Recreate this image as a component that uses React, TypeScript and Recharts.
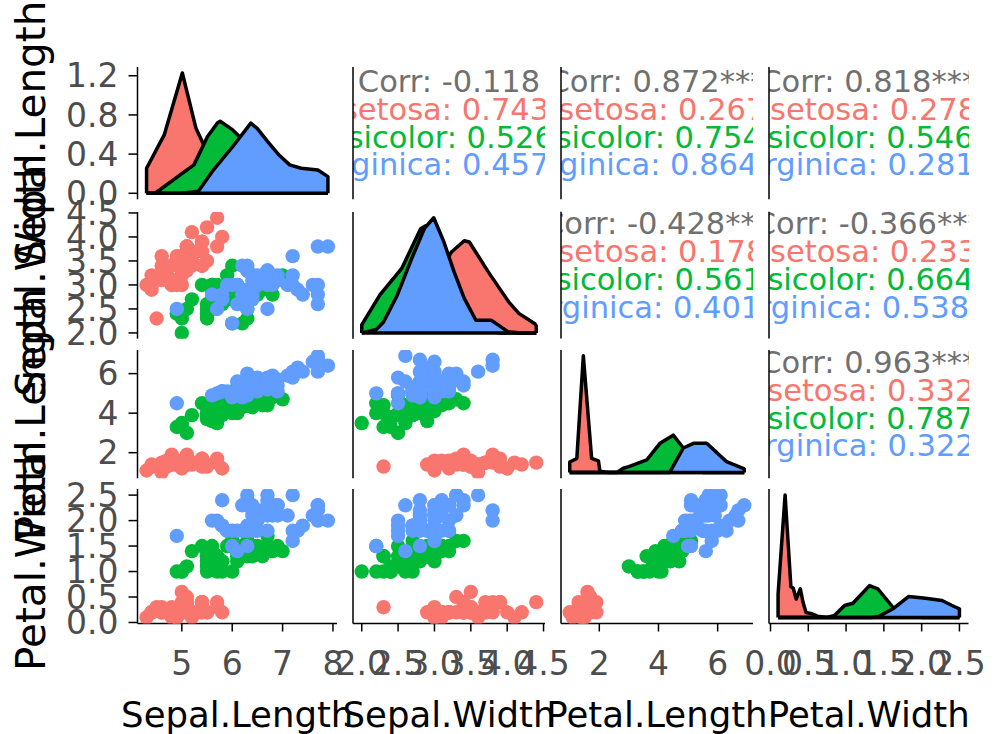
import { Area, AreaChart, ReferenceLine, Scatter, ScatterChart, XAxis, YAxis } from "recharts";

const FONT = "'DejaVu Sans', Verdana, sans-serif";
const TICK_COLOR = "#4d4d4d";
const SPECIES = ["setosa", "versicolor", "virginica"];
const SPECIES_COLORS = ["#F8766D", "#00BA38", "#619CFF"];
const VARIABLES = ["Sepal.Length", "Sepal.Width", "Petal.Length", "Petal.Width"];

// iris measurements, one array per species and variable
const setosaSepalLength = [5.1, 4.9, 4.7, 4.6, 5.0, 5.4, 4.6, 5.0, 4.4, 4.9, 5.4, 4.8, 4.8, 4.3, 5.8, 5.7, 5.4, 5.1, 5.7, 5.1, 5.4, 5.1, 4.6, 5.1, 4.8, 5.0, 5.0, 5.2, 5.2, 4.7, 4.8, 5.4, 5.2, 5.5, 4.9, 5.0, 5.5, 4.9, 4.4, 5.1, 5.0, 4.5, 4.4, 5.0, 5.1, 4.8, 5.1, 4.6, 5.3, 5.0];
const setosaSepalWidth = [3.5, 3.0, 3.2, 3.1, 3.6, 3.9, 3.4, 3.4, 2.9, 3.1, 3.7, 3.4, 3.0, 3.0, 4.0, 4.4, 3.9, 3.5, 3.8, 3.8, 3.4, 3.7, 3.6, 3.3, 3.4, 3.0, 3.4, 3.5, 3.4, 3.2, 3.1, 3.4, 4.1, 4.2, 3.1, 3.2, 3.5, 3.6, 3.0, 3.4, 3.5, 2.3, 3.2, 3.5, 3.8, 3.0, 3.8, 3.2, 3.7, 3.3];
const setosaPetalLength = [1.4, 1.4, 1.3, 1.5, 1.4, 1.7, 1.4, 1.5, 1.4, 1.5, 1.5, 1.6, 1.4, 1.1, 1.2, 1.5, 1.3, 1.4, 1.7, 1.5, 1.7, 1.5, 1.0, 1.7, 1.9, 1.6, 1.6, 1.5, 1.4, 1.6, 1.6, 1.5, 1.5, 1.4, 1.5, 1.2, 1.3, 1.4, 1.3, 1.5, 1.3, 1.3, 1.3, 1.6, 1.9, 1.4, 1.6, 1.4, 1.5, 1.4];
const setosaPetalWidth = [0.2, 0.2, 0.2, 0.2, 0.2, 0.4, 0.3, 0.2, 0.2, 0.1, 0.2, 0.2, 0.1, 0.1, 0.2, 0.4, 0.4, 0.3, 0.3, 0.3, 0.2, 0.4, 0.2, 0.5, 0.2, 0.2, 0.4, 0.2, 0.2, 0.2, 0.2, 0.4, 0.1, 0.2, 0.2, 0.2, 0.2, 0.1, 0.2, 0.2, 0.3, 0.3, 0.2, 0.6, 0.4, 0.3, 0.2, 0.2, 0.2, 0.2];

const versicolorSepalLength = [7.0, 6.4, 6.9, 5.5, 6.5, 5.7, 6.3, 4.9, 6.6, 5.2, 5.0, 5.9, 6.0, 6.1, 5.6, 6.7, 5.6, 5.8, 6.2, 5.6, 5.9, 6.1, 6.3, 6.1, 6.4, 6.6, 6.8, 6.7, 6.0, 5.7, 5.5, 5.5, 5.8, 6.0, 5.4, 6.0, 6.7, 6.3, 5.6, 5.5, 5.5, 6.1, 5.8, 5.0, 5.6, 5.7, 5.7, 6.2, 5.1, 5.7];
const versicolorSepalWidth = [3.2, 3.2, 3.1, 2.3, 2.8, 2.8, 3.3, 2.4, 2.9, 2.7, 2.0, 3.0, 2.2, 2.9, 2.9, 3.1, 3.0, 2.7, 2.2, 2.5, 3.2, 2.8, 2.5, 2.8, 2.9, 3.0, 2.8, 3.0, 2.9, 2.6, 2.4, 2.4, 2.7, 2.7, 3.0, 3.4, 3.1, 2.3, 3.0, 2.5, 2.6, 3.0, 2.6, 2.3, 2.7, 3.0, 2.9, 2.9, 2.5, 2.8];
const versicolorPetalLength = [4.7, 4.5, 4.9, 4.0, 4.6, 4.5, 4.7, 3.3, 4.6, 3.9, 3.5, 4.2, 4.0, 4.7, 3.6, 4.4, 4.5, 4.1, 4.5, 3.9, 4.8, 4.0, 4.9, 4.7, 4.3, 4.4, 4.8, 5.0, 4.5, 3.5, 3.8, 3.7, 3.9, 5.1, 4.5, 4.5, 4.7, 4.4, 4.1, 4.0, 4.4, 4.6, 4.0, 3.3, 4.2, 4.2, 4.2, 4.3, 3.0, 4.1];
const versicolorPetalWidth = [1.4, 1.5, 1.5, 1.3, 1.5, 1.3, 1.6, 1.0, 1.3, 1.4, 1.0, 1.5, 1.0, 1.4, 1.3, 1.4, 1.5, 1.0, 1.5, 1.1, 1.8, 1.3, 1.5, 1.2, 1.3, 1.4, 1.4, 1.7, 1.5, 1.0, 1.1, 1.0, 1.2, 1.6, 1.5, 1.6, 1.5, 1.3, 1.3, 1.3, 1.2, 1.4, 1.2, 1.0, 1.3, 1.2, 1.3, 1.3, 1.1, 1.3];

const virginicaSepalLength = [6.3, 5.8, 7.1, 6.3, 6.5, 7.6, 4.9, 7.3, 6.7, 7.2, 6.5, 6.4, 6.8, 5.7, 5.8, 6.4, 6.5, 7.7, 7.7, 6.0, 6.9, 5.6, 7.7, 6.3, 6.7, 7.2, 6.2, 6.1, 6.4, 7.2, 7.4, 7.9, 6.4, 6.3, 6.1, 7.7, 6.3, 6.4, 6.0, 6.9, 6.7, 6.9, 5.8, 6.8, 6.7, 6.7, 6.3, 6.5, 6.2, 5.9];
const virginicaSepalWidth = [3.3, 2.7, 3.0, 2.9, 3.0, 3.0, 2.5, 2.9, 2.5, 3.6, 3.2, 2.7, 3.0, 2.5, 2.8, 3.2, 3.0, 3.8, 2.6, 2.2, 3.2, 2.8, 2.8, 2.7, 3.3, 3.2, 2.8, 3.0, 2.8, 3.0, 2.8, 3.8, 2.8, 2.8, 2.6, 3.0, 3.4, 3.1, 3.0, 3.1, 3.1, 3.1, 2.7, 3.2, 3.3, 3.0, 2.5, 3.0, 3.4, 3.0];
const virginicaPetalLength = [6.0, 5.1, 5.9, 5.6, 5.8, 6.6, 4.5, 6.3, 5.8, 6.1, 5.1, 5.3, 5.5, 5.0, 5.1, 5.3, 5.5, 6.7, 6.9, 5.0, 5.7, 4.9, 6.7, 4.9, 5.7, 6.0, 4.8, 4.9, 5.6, 5.8, 6.1, 6.4, 5.6, 5.1, 5.6, 6.1, 5.6, 5.5, 4.8, 5.4, 5.6, 5.1, 5.1, 5.9, 5.7, 5.2, 5.0, 5.2, 5.4, 5.1];
const virginicaPetalWidth = [2.5, 1.9, 2.1, 1.8, 2.2, 2.1, 1.7, 1.8, 1.8, 2.5, 2.0, 1.9, 2.1, 2.0, 2.4, 2.3, 1.8, 2.2, 2.3, 1.5, 2.3, 2.0, 2.0, 1.8, 2.1, 1.8, 1.8, 1.8, 2.1, 1.6, 1.9, 2.0, 2.2, 1.5, 1.4, 2.3, 2.4, 1.8, 1.8, 2.1, 2.4, 2.3, 1.9, 2.3, 2.5, 2.3, 1.9, 2.0, 2.3, 1.8];

const measurements = [
  [setosaSepalLength, setosaSepalWidth, setosaPetalLength, setosaPetalWidth],
  [versicolorSepalLength, versicolorSepalWidth, versicolorPetalLength, versicolorPetalWidth],
  [virginicaSepalLength, virginicaSepalWidth, virginicaPetalLength, virginicaPetalWidth],
];

// axis ranges and ticks for each variable
const varDomains: [number, number][] = [[4.12, 8.08], [1.88, 4.52], [0.705, 7.195], [-0.02, 2.62]];
const varTicks = [[5, 6, 7, 8], [2, 2.5, 3, 3.5, 4, 4.5], [2, 4, 6], [0, 0.5, 1, 1.5, 2, 2.5]];
const varDecimals = [0, 1, 0, 1];

// density outlines on the diagonal, [value, density]
const densSepalLengthSetosa = [[4.3, 0], [4.3, 0.256], [4.65, 0.596], [5.01, 1.228], [5.28, 0.665], [5.42, 0.511], [5.6, 0.32], [5.8, 0.12], [6.0, 0.04], [6.3, 0.005], [6.6, 0], [7.9, 0]];
const densSepalLengthVersicolor = [[4.3, 0], [4.47, 0], [5.0, 0.2], [5.24, 0.29], [5.51, 0.58], [5.71, 0.72], [5.76, 0.735], [6.01, 0.647], [6.14, 0.58], [6.4, 0.45], [6.7, 0.3], [7.0, 0.12], [7.2, 0.03], [7.5, 0], [7.9, 0]];
const densSepalLengthVirginica = [[4.3, 0], [5.0, 0], [5.33, 0.02], [5.6, 0.22], [6.0, 0.47], [6.37, 0.716], [6.5, 0.66], [6.7, 0.53], [6.93, 0.39], [7.14, 0.29], [7.37, 0.256], [7.7, 0.238], [7.9, 0.17], [7.9, 0]];

const densSepalWidthSetosa = [[2.0, 0], [2.0, 0.005], [2.3, 0.02], [2.6, 0.08], [2.8, 0.2], [3.0, 0.45], [3.23, 0.7], [3.41, 0.8], [3.48, 0.79], [3.74, 0.53], [4.02, 0.27], [4.16, 0.17], [4.38, 0.08], [4.4, 0.06], [4.4, 0]];
const densSepalWidthVersicolor = [[2.0, 0], [2.0, 0.07], [2.25, 0.33], [2.55, 0.56], [2.81, 0.905], [2.88, 0.93], [3.0, 0.8], [3.2, 0.45], [3.4, 0.15], [3.6, 0.03], [3.9, 0], [4.4, 0]];
const densSepalWidthVirginica = [[2.0, 0], [2.2, 0.03], [2.3, 0.095], [2.49, 0.33], [2.67, 0.62], [2.86, 0.905], [2.99, 1.0], [3.13, 0.79], [3.27, 0.53], [3.41, 0.3], [3.57, 0.11], [3.78, 0.11], [3.92, 0.05], [4.01, 0.01], [4.2, 0], [4.4, 0]];

const densPetalLengthSetosa = [[1.0, 0], [1.0, 0.09], [1.24, 0.12], [1.46, 1.0], [1.74, 0.12], [1.97, 0.1], [2.02, 0.01], [2.3, 0], [6.9, 0]];
const densPetalLengthVersicolor = [[1.0, 0], [2.6, 0], [2.81, 0.036], [3.0, 0.05], [3.6, 0.107], [4.05, 0.25], [4.5, 0.32], [4.84, 0.21], [5.0, 0.12], [5.2, 0.04], [5.5, 0], [6.9, 0]];
const densPetalLengthVirginica = [[1.0, 0], [4.38, 0], [4.84, 0.21], [5.18, 0.25], [5.63, 0.25], [6.3, 0.093], [6.86, 0.036], [6.9, 0.03], [6.9, 0]];

const densPetalWidthSetosa = [[0.1, 0], [0.1, 0.19], [0.193, 1.0], [0.27, 0.25], [0.3, 0.24], [0.34, 0.15], [0.395, 0.234], [0.43, 0.124], [0.47, 0.04], [0.55, 0.03], [0.62, 0.01], [0.75, 0], [2.5, 0]];
const densPetalWidthVersicolor = [[0.1, 0], [0.75, 0], [0.845, 0.015], [0.98, 0.097], [1.09, 0.116], [1.31, 0.26], [1.42, 0.234], [1.62, 0.083], [1.8, 0.02], [2.0, 0], [2.5, 0]];
const densPetalWidthVirginica = [[0.1, 0], [1.35, 0], [1.44, 0.01], [1.62, 0.07], [1.83, 0.171], [2.05, 0.156], [2.27, 0.138], [2.43, 0.089], [2.5, 0.07], [2.5, 0]];

const densities = [
  [densSepalLengthSetosa, densSepalLengthVersicolor, densSepalLengthVirginica],
  [densSepalWidthSetosa, densSepalWidthVersicolor, densSepalWidthVirginica],
  [densPetalLengthSetosa, densPetalLengthVersicolor, densPetalLengthVirginica],
  [densPetalWidthSetosa, densPetalWidthVersicolor, densPetalWidthVirginica],
];
const densityDomains: [number, number][] = [[-0.0614, 1.2894], [-0.05, 1.05], [-0.05, 1.05], [-0.05, 1.05]];
const densityTicks = [0, 0.4, 0.8, 1.2];

// correlation text above the diagonal: overall value first, then per species
const corrSepalLengthSepalWidth = ["-0.118", "0.743***", "0.526***", "0.457***"];
const corrSepalLengthPetalLength = ["0.872***", "0.267.", "0.754***", "0.864***"];
const corrSepalLengthPetalWidth = ["0.818***", "0.278.", "0.546***", "0.281*"];
const corrSepalWidthPetalLength = ["-0.428***", "0.178", "0.561***", "0.401**"];
const corrSepalWidthPetalWidth = ["-0.366***", "0.233", "0.664***", "0.538***"];
const corrPetalLengthPetalWidth = ["0.963***", "0.332*", "0.787***", "0.322*"];
const corrValues: Record<string, string[]> = {
  "0-1": corrSepalLengthSepalWidth,
  "0-2": corrSepalLengthPetalLength,
  "0-3": corrSepalLengthPetalWidth,
  "1-2": corrSepalWidthPetalLength,
  "1-3": corrSepalWidthPetalWidth,
  "2-3": corrPetalLengthPetalWidth,
};
const corrColors = ["#707070", ...SPECIES_COLORS];
const corrLineOffsets = [-41.2, -13.4, 14.4, 42.2];

// panel edges in px
const COLS = [
  { left: 137.5, right: 337 },
  { left: 353, right: 545 },
  { left: 561, right: 753 },
  { left: 769, right: 968.5 },
];
const ROWS = [
  { top: 67, bottom: 199.3 },
  { top: 211.7, bottom: 338.4 },
  { top: 350, bottom: 478.3 },
  { top: 488.5, bottom: 623 },
];
const PAD = 20;
const PAD_RIGHT = 30;
const INNER_AXIS_WIDTH = 40;

const tickStyle = { fill: TICK_COLOR, fontSize: 33, fontFamily: FONT };
const axisStroke = { stroke: "#000", strokeWidth: 1.5 };

function frame(row: number, col: number) {
  const c = COLS[col];
  const r = ROWS[row];
  const left = col === 0 ? 0 : c.left - INNER_AXIS_WIDTH;
  const xAxisHeight = row === 3 ? 60 : 0;
  return {
    style: { position: "absolute" as const, left, top: r.top - PAD },
    width: c.right - left + PAD_RIGHT,
    height: r.bottom - r.top + xAxisHeight + 2 * PAD,
    margin: { top: PAD, right: PAD_RIGHT, bottom: PAD, left: 0 },
    yAxisWidth: c.left - left,
    xAxisHeight,
  };
}

function axes(row: number, col: number, yDomain: [number, number], yTicks: number[], yDecimals: number, visible: boolean) {
  const f = frame(row, col);
  const showX = row === 3 && visible;
  const showY = col === 0 && visible;
  return [
    <XAxis
      key="x"
      type="number"
      dataKey="x"
      domain={varDomains[col]}
      allowDataOverflow
      ticks={varTicks[col]}
      interval={0}
      hide={row !== 3}
      height={f.xAxisHeight}
      tickSize={8}
      tickMargin={20}
      tick={showX ? tickStyle : false}
      tickLine={showX ? axisStroke : false}
      axisLine={showX ? axisStroke : false}
      tickFormatter={(v: number) => v.toFixed(varDecimals[col])}
    />,
    <YAxis
      key="y"
      type="number"
      dataKey="y"
      domain={yDomain}
      allowDataOverflow
      ticks={yTicks}
      interval={0}
      width={f.yAxisWidth}
      tickSize={9}
      tickMargin={10}
      tick={showY ? tickStyle : false}
      tickLine={showY ? axisStroke : false}
      axisLine={visible ? axisStroke : false}
      tickFormatter={(v: number) => v.toFixed(yDecimals)}
    />,
  ];
}

const dot = (props: any) => <circle cx={props.cx} cy={props.cy} r={7.2} fill={props.fill} />;

function ScatterPanel({ row, col }: { row: number; col: number }) {
  const f = frame(row, col);
  return (
    <div style={f.style}>
      <ScatterChart width={f.width} height={f.height} margin={f.margin}>
        {axes(row, col, varDomains[row], varTicks[row], varDecimals[row], true)}
        {SPECIES.map((name, s) => (
          <Scatter
            key={name}
            name={name}
            data={measurements[s][col].map((x, i) => ({ x, y: measurements[s][row][i] }))}
            fill={SPECIES_COLORS[s]}
            shape={dot}
            isAnimationActive={false}
          />
        ))}
      </ScatterChart>
    </div>
  );
}

function DensityPanel({ index }: { index: number }) {
  const f = frame(index, index);
  const ticks = index === 0 ? densityTicks : [];
  return (
    <>
      {SPECIES.map((name, s) => {
        const pts = densities[index][s];
        return (
          <div key={name} style={f.style}>
            <AreaChart width={f.width} height={f.height} margin={f.margin} data={pts.map(([x, y]) => ({ x, y }))}>
              {axes(index, index, densityDomains[index], ticks, 1, s === 0)}
              <Area
                type="linear"
                dataKey="y"
                name={name}
                baseValue={0}
                fill={SPECIES_COLORS[s]}
                fillOpacity={1}
                stroke="#000"
                strokeWidth={3.5}
                strokeLinejoin="round"
                dot={false}
                activeDot={false}
                isAnimationActive={false}
              />
              {s === 2 && (
                <ReferenceLine
                  segment={[
                    { x: pts[0][0], y: 0 },
                    { x: pts[pts.length - 1][0], y: 0 },
                  ]}
                  stroke="#000"
                  strokeWidth={3.5}
                />
              )}
            </AreaChart>
          </div>
        );
      })}
    </>
  );
}

// species names right-justified, values left-justified, padded with spaces
function corrLines(values: string[]) {
  const labelWidth = Math.max(...SPECIES.map((s) => s.length));
  const valueWidth = Math.max(...values.slice(1).map((v) => v.length));
  return [`Corr: ${values[0]}`, ...SPECIES.map((s, i) => `${s.padStart(labelWidth)}: ${values[i + 1].padEnd(valueWidth)}`)];
}

function CorrPanel({ row, col }: { row: number; col: number }) {
  const c = COLS[col];
  const r = ROWS[row];
  const w = c.right - c.left;
  const h = r.bottom - r.top;
  const lines = corrLines(corrValues[`${row}-${col}`]);
  return (
    <svg width={w} height={h} style={{ position: "absolute", left: c.left, top: r.top, overflow: "hidden" }}>
      {lines.map((line, i) => (
        <text
          key={i}
          x={w / 2}
          y={h / 2 + corrLineOffsets[i]}
          textAnchor="middle"
          fill={corrColors[i]}
          fontSize={30.5}
          fontFamily={FONT}
          xmlSpace="preserve"
          style={{ whiteSpace: "pre" }}
        >
          {line}
        </text>
      ))}
    </svg>
  );
}

export default function App() {
  const cells = [];
  for (let row = 0; row < 4; row++) {
    for (let col = 0; col < 4; col++) {
      const key = `${row}-${col}`;
      if (row === col) cells.push(<DensityPanel key={key} index={row} />);
      else if (row > col) cells.push(<ScatterPanel key={key} row={row} col={col} />);
      else cells.push(<CorrPanel key={key} row={row} col={col} />);
    }
  }

  return (
    <div style={{ position: "absolute", left: 0, top: 0, width: 994, height: 734, background: "#fff", overflow: "hidden" }}>
      {cells}
      <svg width={994} height={734} style={{ position: "absolute", left: 0, top: 0, pointerEvents: "none" }}>
        {/* left border of the correlation panels */}
        {ROWS.map((r, row) =>
          COLS.map((c, col) =>
            col > row ? <line key={`${row}-${col}`} x1={c.left} x2={c.left} y1={r.top} y2={r.bottom} stroke="#000" strokeWidth={1.5} /> : null
          )
        )}
        {VARIABLES.map((v, i) => (
          <text key={`x-${v}`} x={(COLS[i].left + COLS[i].right) / 2} y={726.5} textAnchor="middle" fontSize={35.5} fontFamily={FONT} fill="#000">
            {v}
          </text>
        ))}
        {VARIABLES.map((v, i) => (
          <text
            key={`y-${v}`}
            transform={`translate(45, ${(ROWS[i].top + ROWS[i].bottom) / 2}) rotate(-90)`}
            textAnchor="middle"
            fontSize={40.5}
            fontFamily={FONT}
            fill="#000"
          >
            {v}
          </text>
        ))}
      </svg>
    </div>
  );
}
